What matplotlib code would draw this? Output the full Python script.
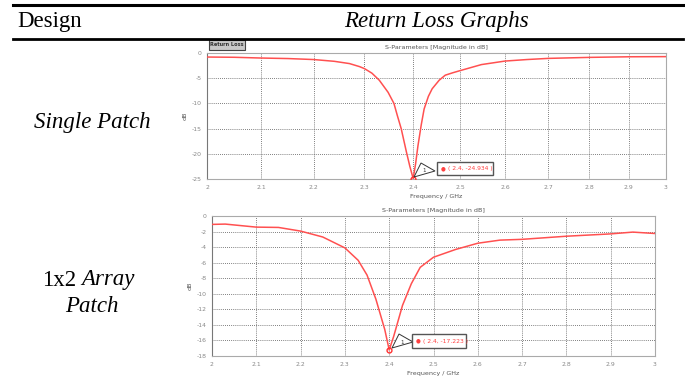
import numpy as np
import matplotlib
matplotlib.use("Agg")
import matplotlib.pyplot as plt

plt.rcParams["axes.unicode_minus"] = False

# single patch S11 (dB)
f_single = [2.0, 2.05, 2.1, 2.15, 2.2, 2.24, 2.27, 2.29, 2.3, 2.315, 2.33, 2.348, 2.36, 2.367,
            2.375, 2.386, 2.393, 2.4, 2.405, 2.41, 2.417, 2.423, 2.432, 2.44, 2.455,
            2.468, 2.485, 2.5, 2.547, 2.6, 2.65, 2.7, 2.8, 2.9, 3.0]
s_single = [-0.8, -0.85, -1.0, -1.1, -1.3, -1.65, -2.1, -2.7, -3.1, -4.0, -5.4, -7.8, -10.0, -12.4,
            -15.0, -19.7, -22.5, -24.934, -22.0, -18.4, -14.2, -11.1, -8.6, -7.1, -5.4,
            -4.4, -3.9, -3.5, -2.3, -1.6, -1.3, -1.07, -0.87, -0.75, -0.72]

# 1x2 array S11 (dB)
f_array = [2.0, 2.03, 2.1, 2.15, 2.2, 2.25, 2.3, 2.33, 2.35, 2.37, 2.39, 2.4, 2.41,
           2.43, 2.45, 2.47, 2.5, 2.55, 2.6, 2.65, 2.7, 2.8, 2.9, 2.95, 3.0]
s_array = [-1.08, -1.04, -1.43, -1.47, -1.94, -2.7, -4.1, -5.7, -7.6, -10.7, -14.6, -17.223, -15.5,
           -11.5, -8.7, -6.6, -5.3, -4.3, -3.5, -3.1, -3.0, -2.6, -2.3, -2.07, -2.25]

markers = [(2.4, -24.934), (2.4, -17.223)]

W, H = 685, 378
fig = plt.figure(figsize=(W / 100, H / 100), dpi=100)
serif = ["Liberation Serif", "DejaVu Serif"]
fs = 16.5


def px_axes(l, t, r, b):
    return fig.add_axes([l / W, 1 - b / H, (r - l) / W, (b - t) / H])


def px(x, y):
    return x / W, 1 - y / H


# table rules and text
for yy, lw in [(5, 2.2), (39, 2.0)]:
    fig.add_artist(plt.Line2D([13 / W, 683 / W], [1 - yy / H] * 2, color="black", lw=lw))
fig.text(*px(50, 22), "Design", family=serif, fontsize=fs, ha="center", va="center")
fig.text(*px(436, 22), "Return Loss Graphs", family=serif, style="italic",
         fontsize=fs, ha="center", va="center")
fig.text(*px(92, 123), "Single Patch", family=serif, style="italic",
         fontsize=fs, ha="center", va="center")
fig.text(*px(76, 280), "1x2", family=serif, fontsize=fs, ha="right", va="center")
fig.text(*px(81, 280), "Array", family=serif, style="italic", fontsize=fs,
         ha="left", va="center")
fig.text(*px(92, 306), "Patch", family=serif, style="italic", fontsize=fs,
         ha="center", va="center")

# the first screenshot is squeezed to the right, mimic with a quadratic scale
c = 0.1702


def fwd(x):
    t = np.asarray(x, dtype=float) - 2
    return t - c * t ** 2


def inv(v):
    v = np.asarray(v, dtype=float)
    return 2 + (1 - np.sqrt(np.clip(1 - 4 * c * v, 0, None))) / (2 * c)


ax1 = px_axes(207, 53, 666, 179)
ax2 = px_axes(212, 216, 655, 356)

setups = [
    (ax1, f_single, s_single, (-25, 0), np.arange(-25, 1, 5), markers[0],
     (423, 170), (437, 162, 493, 175), "( 2.4, -24.934 )"),
    (ax2, f_array, s_array, (-18, 0), np.arange(-18, 1, 2), markers[1],
     (401, 341), (412, 334, 466, 348), "( 2.4, -17.223 )"),
]

for ax, f, s, ylim, yt, mk, tri, box, lab in setups:
    if ax is ax1:
        ax.set_xscale("function", functions=(fwd, inv))
    ax.plot(f, s, color="#ff5050", lw=1.1, zorder=3)
    ax.plot(*mk, "o", ms=3.5, mfc="none", mec="#ff3030", mew=1, zorder=4)
    ax.set_xlim(2, 3)
    ax.set_ylim(*ylim)
    ax.set_xticks(np.round(np.arange(2, 3.01, 0.1), 1))
    ax.set_xticklabels(["2"] + [f"{v:.1f}" for v in np.arange(2.1, 2.95, 0.1)] + ["3"])
    ax.set_yticks(yt)
    ax.grid(True, color="#555555", ls=(0, (1, 1.5)), lw=0.6)
    ax.tick_params(labelsize=4.4, colors="#888888", length=0, pad=4)
    for sp in ax.spines.values():
        sp.set_color("#aaaaaa")
        sp.set_linewidth(0.8)
    ax.spines["left"].set_color("#777777")
    ax.set_xlabel("Frequency / GHz", fontsize=4.6, color="#555555", labelpad=3)
    ax.set_ylabel("dB", fontsize=4.6, color="#555555", labelpad=3)
    ax.set_title("S-Parameters [Magnitude in dB]", fontsize=4.6, color="#555555", pad=3)

    # marker label: triangle + box
    tx, ty = tri
    fig.add_artist(plt.Polygon([px(tx - 9, ty + 7), px(tx - 2, ty - 7), px(tx + 12, ty + 1)],
                               closed=True, fc="white", ec="#333333", lw=0.7))
    fig.text(*px(tx + 1, ty + 1), "1", fontsize=4, ha="center", va="center", color="#333333")
    l, t, r, b = box
    fig.add_artist(plt.Rectangle(px(l, b), (r - l) / W, (b - t) / H, fc="white",
                                 ec="#555555", lw=1.0))
    fig.text(*px(l + 4, (t + b) / 2), "\u25cf", fontsize=4, ha="left", va="center",
             color="#ff4040")
    fig.text(*px(l + 11, (t + b) / 2), lab, fontsize=4.3, ha="left", va="center",
             color="#ff4040")

# "Return Loss" button on the first screenshot
fig.add_artist(plt.Rectangle(px(209, 50), 36 / W, 10 / H, fc="#c8c8c8", ec="#444444", lw=0.8))
fig.text(*px(227, 45), "Return Loss", fontsize=3.6, weight="bold", ha="center",
         va="center", color="#333333")

fig.savefig("out.png", dpi=100)
